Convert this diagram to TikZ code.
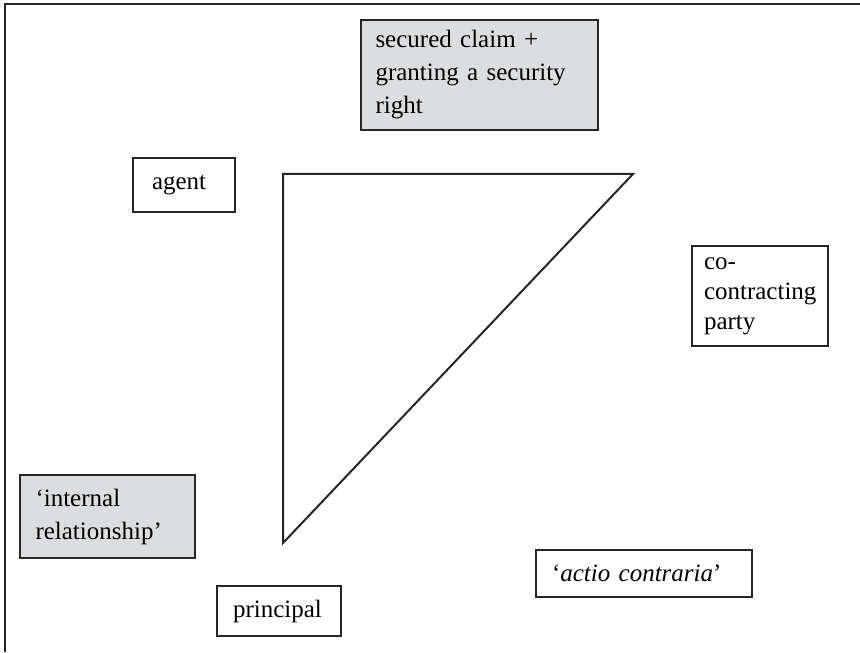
\documentclass[tikz,border=0pt]{standalone}
\usepackage{fontspec}
\setmainfont{Liberation Serif}
\definecolor{boxgray}{RGB}{220,221,223}
\begin{document}
\begin{tikzpicture}[x=0.5pt,y=-0.5pt,
  box/.style={draw=black!85, line width=1pt, inner sep=0pt, align=left,
    font=\fontsize{12.5}{16.5}\selectfont},
  shaded/.style={box, fill=boxgray},
  edge/.style={draw=black!85, line width=1pt, line join=miter}]
\useasboundingbox (0,0) rectangle (860,652);
% open frame: top and left rules only
\coordinate (fl) at (4.5,652);
\coordinate (fc) at (4.5,4.5);
\coordinate (fr) at (860,4.5);
\draw[edge] (fl) -- (fc) -- (fr);
% boxes
\node[shaded, minimum width=118.5pt, minimum height=55pt, text width=104pt] (sec) at (479.5,75) {secured claim +\\granting a security\\right};
\node[box, minimum width=51pt, minimum height=27pt, text width=32pt] (agent) at (184,185) {agent};
\node[box, minimum width=68pt, minimum height=50pt, text width=56pt,
      font=\fontsize{12.5}{15}\selectfont] (co) at (760,296) {co-\\contracting\\party};
\node[shaded, minimum width=87.5pt, minimum height=41.5pt, text width=72pt] (int) at (107.5,516.5) {‘internal\\relationship’};
\node[box, minimum width=62pt, minimum height=25pt, text width=46pt] (prin) at (279,611) {principal};
\node[box, minimum width=108pt, minimum height=23.5pt, text width=92pt] (actio) at (644,573.5) {‘\textit{actio contraria}’};
% triangle
\coordinate (ta) at (283,174);
\coordinate (tb) at (633,174);
\coordinate (tc) at (283,543);
\draw[edge] (ta) -- (tb) -- (tc) -- cycle;
\end{tikzpicture}
\end{document}
